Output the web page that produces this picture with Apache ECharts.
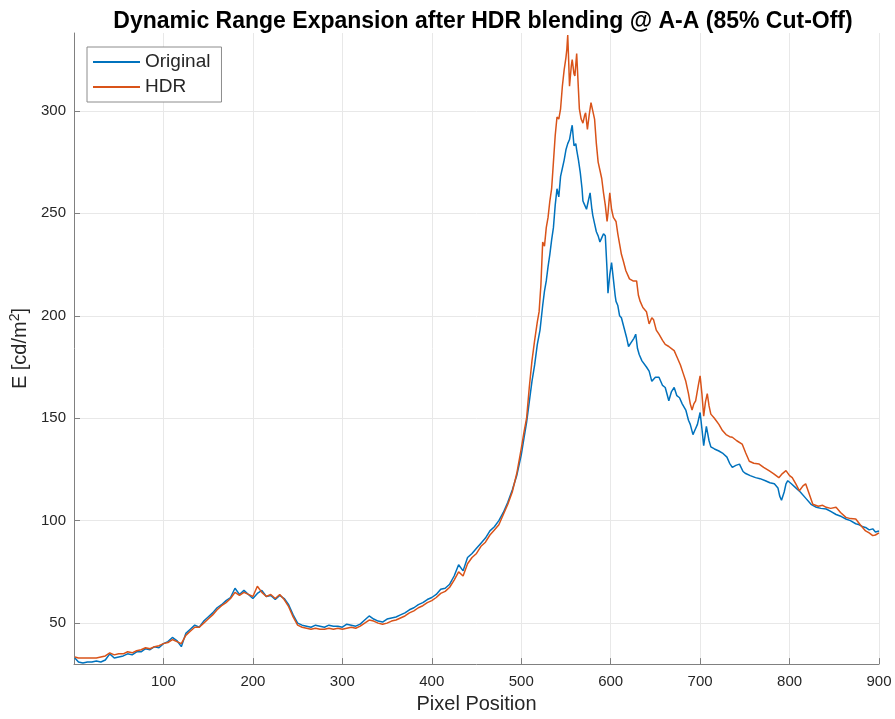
<!DOCTYPE html>
<html><head><meta charset="utf-8">
<script src="https://cdn.jsdelivr.net/npm/echarts@6/dist/echarts.min.js"></script>
<style>html,body{margin:0;padding:0;background:#fff}#c{width:895px;height:719px}</style>
</head><body><div id="c"></div>
<script>
// Pixel positions and values
const origX = [1,5,10,15,20,25,30,35,40,45,50,55,60,65,70,75,80,85,90,95,100,105,110,115,120,125,130,135,140,145,150,155,160,165,170,175,180,185,190,195,200,205,210,215,220,225,230,235,240,245,250,255,260,265,270,275,280,285,290,295,300,305,310,315,320,325,330,335,340,345,350,355,360,365,370,375,380,385,390,395,400,405,410,415,420,425,430,435,440,445,450,455,460,465,470,475,480,485,490,495,
500,503,506,509,512,515,518,521,524,526,528,530,532,534,536,538,540,542,544,546,548,550,552,554,556,557,559,561,562,564,566,568,569,571,573,575,577,579,580,582,584,586,588,590,592,594,596,597,599,601,603,605,606,608,610,612,615,618,620,623,626,628,630,632,635,640,643,646,650,654,658,661,665,668,671,674,677,680,684,687,689,692,694,697,700,702,704,707,710,712,716,721,725,730,733,736,740,744,748,751,756,762,767,773,778,783,787,789,791,794,796,798,802,807,812,818,824,830,835,841,846,852,858,863,868,874,878,882,885,889,893,896,900];
const origY = [33,31,30.5,31,31,31.5,31,32,35,33,33.5,34,35,34.5,36,36,37.5,37,38.5,38,40,41,43,41.5,38.5,45,47,49,48,51,53,55,57.5,59,61,62.5,67,64,66,64,62,64.5,66,63,63.5,61.5,63.5,62,59,54,50,49,48.5,48,49,48.5,48,49,48.5,48.5,48,49.5,49,48.5,49.5,51.5,53.5,52,51,50.5,52,52.5,53,54,55,56.5,57.5,59,60,61.5,62.5,64,66.5,67,69,73,78.5,75.5,82,84,86.5,89,91.5,95,97,100,104,109,115,122,
132,140,148,158,168,176,186,193,205,212,217,224,230,237,243,254,262,258,268,272,276,281,284,286,291,293,283,284,281,276,270,262,256,254,252,256,260,252,249,245,241,239,236,238,240,239,222,211,220,226,218,210,207,205,200,199,194,189,185,187,189,191,184,181,178,175,173,168,170,170,166,165,158.5,163,165,161,160,157,154,149,147,142,144,147,152.8,145,136.6,146,139,136,135,134,133,131,128,126,127,127.6,124,123,122,121,120.5,119.5,118.5,118,116,112,110,114,118,119.5,118,116,114,111,108,106.5,106,105.7,104.5,103,102,100.8,100,98.5,98,97,96.7,95.5,96,94.5,95];
const hdrX = [1,5,10,15,20,25,30,35,40,45,50,55,60,65,70,75,80,85,90,95,100,105,110,115,120,125,130,135,140,145,150,155,160,165,170,175,180,185,190,195,200,205,210,215,220,225,230,235,240,245,250,255,260,265,270,275,280,285,290,295,300,305,310,315,320,325,330,335,340,345,350,355,360,365,370,375,380,385,390,395,400,405,410,415,420,425,430,435,440,445,450,455,460,465,470,475,480,485,490,495,
500,503,506,509,512,515,518,520,522,524,526,528,530,532,534,536,538,540,542,544,546,548,550,551,552,553,554,556,557,559,560,562,564,565,567,569,571,572,574,576,578,580,582,584,586,588,590,592,594,596,597,599,601,603,606,608,610,612,614,617,621,625,629,631,633,636,640,643,646,648,651,654,658,661,665,668,671,674,678,681,684,687,689,691,693,695,698,700,702,704,706,708,710,712,716,721,725,729,733,736,741,747,751,755,760,766,771,777,782,788,792,796,800,803,807,811,815,818,822,826,832,837,841,846,852,857,863,868,874,879,885,889,893,896,900];
const hdrY = [33.5,33,33,33,33,33,33.5,34,35.5,34.5,35,35,36,35.5,36.5,37,38,37.5,38.5,39,40,40.5,42,41,40,44,46,48,48,50,52,54,56.5,58.5,60,62,65,63.5,65,64,63,68,65,63,64,62,64,61.5,58,53,49,48,47.5,47,47.5,47,47,47.5,47,47.5,47,47.5,48,47.5,48.5,50,51.5,51,50,49.5,50,51,51.5,52.5,53.5,55,56,57.5,58.5,60,61,62.5,64.5,65.5,67.5,71,75,73,79,82,84,87.5,89.5,93,95.5,98,103,108,114,123,
135,143,150,165,178,188,197,202,215,236,234,243,248,256,262,275,288,297,296,301,312,320,326,330,337,325,312,322,325,318,317,328,310,301,296,294,298,299,291,298,304,300,296,284,275,271,267,260,254,246,250,260,252,248,246,240,235,230,227,222,218,217,217,210,207,204,202,196,199,198,193,191,188,186,185,184,183,180,176,172,168,162,157,154,157,158.5,166,170.7,162,151,158,162,156,152,150,147,144,142,141,140.7,139,137.4,133,129,128,127.6,126,124.4,123,121,123,124.4,122,121,118,114.6,117,118,113,108,107,107.5,106.5,106,106.5,104,101.6,101,100.8,98,95,94,92.7,93,94];
const xTickLabels = [100,200,300,400,500,600,700,800,900];
const yTickLabels = [50,100,150,200,250,300];

const FONT = "'Liberation Sans', Arial, Helvetica, sans-serif";
const TXT = '#262626';
const chart = echarts.init(document.getElementById('c'), null, {renderer: 'canvas'});
chart.setOption({
  animation: false,
  backgroundColor: '#ffffff',
  title: {
    text: 'Dynamic Range Expansion after HDR blending @ A-A (85% Cut-Off)',
    left: 478, top: 5, textAlign: 'center',
    textStyle: {fontFamily: FONT, fontSize: 23, fontWeight: 'bold', color: '#000'}
  },
  legend: {
    data: ['Original', 'HDR'],
    orient: 'vertical', left: 87, top: 47,
    icon: 'rect', itemWidth: 47, itemHeight: 2, itemGap: 3,
    padding: [4, 11, 4, 6],
    borderColor: '#8c8c8c', borderWidth: 1, borderRadius: 0,
    backgroundColor: '#ffffff',
    textStyle: {fontFamily: FONT, fontSize: 19, lineHeight: 22, color: TXT}
  },
  grid: {left: 74, right: 16, top: 33, bottom: 51, containLabel: false},
  xAxis: {
    type: 'value', min: 0, max: 900, interval: 100,
    name: 'Pixel Position', nameLocation: 'middle', nameGap: 29,
    nameTextStyle: {fontFamily: FONT, fontSize: 20, color: TXT},
    axisLine: {show: true, lineStyle: {color: '#808080', width: 1}},
    axisTick: {show: true, inside: true, length: 6, lineStyle: {color: '#808080'}},
    axisLabel: {
      fontFamily: FONT, fontSize: 15, color: TXT, margin: 10,
      formatter: v => xTickLabels.includes(v) ? String(v) : ''
    },
    splitLine: {show: true, lineStyle: {color: '#e8e8e8', width: 1}}
  },
  yAxis: {
    type: 'value', min: 30, max: 338, splitNumber: 6,
    name: 'E [cd/m{sup|2}]', nameLocation: 'middle', nameGap: 27, nameRotate: 90,
    nameTextStyle: {fontFamily: FONT, fontSize: 20, color: TXT,
      rich: {sup: {fontFamily: FONT, fontSize: 14, color: TXT, padding: [0, 0, 10, 0]}}},
    axisLine: {show: true, lineStyle: {color: '#808080', width: 1}},
    axisTick: {show: true, inside: true, length: 6, lineStyle: {color: '#808080'}},
    axisLabel: {
      fontFamily: FONT, fontSize: 15, color: TXT, margin: 8,
      showMinLabel: false, showMaxLabel: false,
      formatter: v => yTickLabels.includes(v) ? String(v) : ''
    },
    splitLine: {show: true, showMinLine: false, showMaxLine: false, lineStyle: {color: '#e8e8e8', width: 1}}
  },
  series: [
    {name: 'Original', type: 'line', showSymbol: false, symbol: 'none',
     lineStyle: {color: '#0072BD', width: 1.5}, itemStyle: {color: '#0072BD'},
     data: origX.map((x, i) => [x, origY[i]])},
    {name: 'HDR', type: 'line', showSymbol: false, symbol: 'none',
     lineStyle: {color: '#D95319', width: 1.5}, itemStyle: {color: '#D95319'},
     data: hdrX.map((x, i) => [x, hdrY[i]])}
  ]
});
</script>
</body></html>
